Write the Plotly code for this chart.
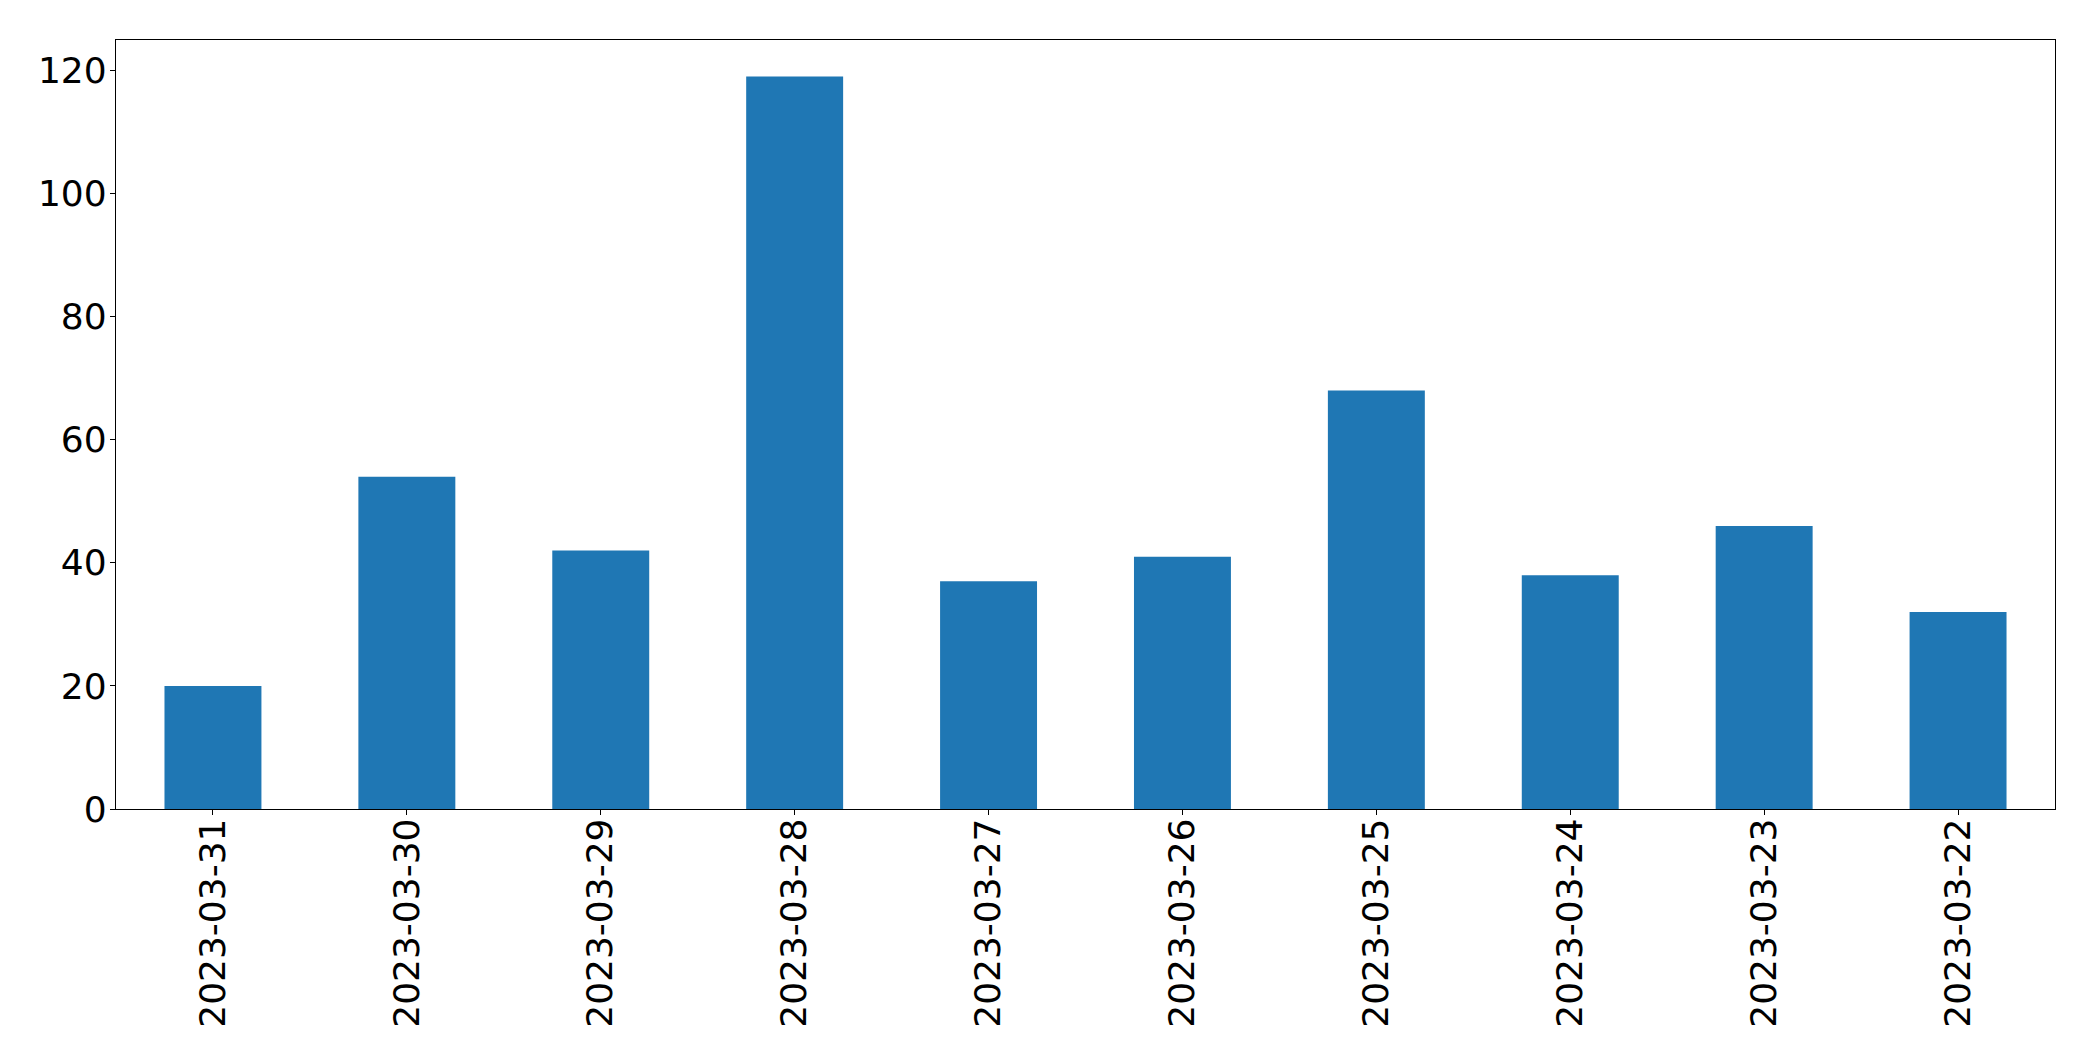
import plotly.graph_objects as go

dates = ["2023-03-31", "2023-03-30", "2023-03-29", "2023-03-28", "2023-03-27",
         "2023-03-26", "2023-03-25", "2023-03-24", "2023-03-23", "2023-03-22"]
counts = [20, 54, 42, 119, 37, 41, 68, 38, 46, 32]
y_ticks = [0, 20, 40, 60, 80, 100, 120]

fig = go.Figure(go.Bar(x=dates, y=counts, marker=dict(color="#1f77b4", line=dict(width=0)), width=0.5))

fig.update_layout(
    width=2077, height=1045,
    margin=dict(l=108, r=30, t=32, b=244, pad=0),
    plot_bgcolor="white", paper_bgcolor="white",
    font=dict(family="DejaVu Sans", size=36, color="black"),
    showlegend=False, bargap=0.5,
)
fig.update_xaxes(type="category", categoryorder="array", categoryarray=dates,
                 range=[-0.5, 9.5], tickangle=-90, ticks="outside", ticklen=5,
                 tickcolor="black", showline=True, linecolor="black", linewidth=1.3,
                 mirror=True, showgrid=False, tickfont=dict(size=36),
                 ticklabelstandoff=-11)
fig.update_yaxes(range=[0, 124.95], tickvals=y_ticks, ticks="outside", ticklen=5,
                 tickcolor="black", showline=True, linecolor="black", linewidth=1.3,
                 mirror=True, showgrid=False, zeroline=False, tickfont=dict(size=36),
                 ticklabelstandoff=-4)

fig.write_html("out.html")
